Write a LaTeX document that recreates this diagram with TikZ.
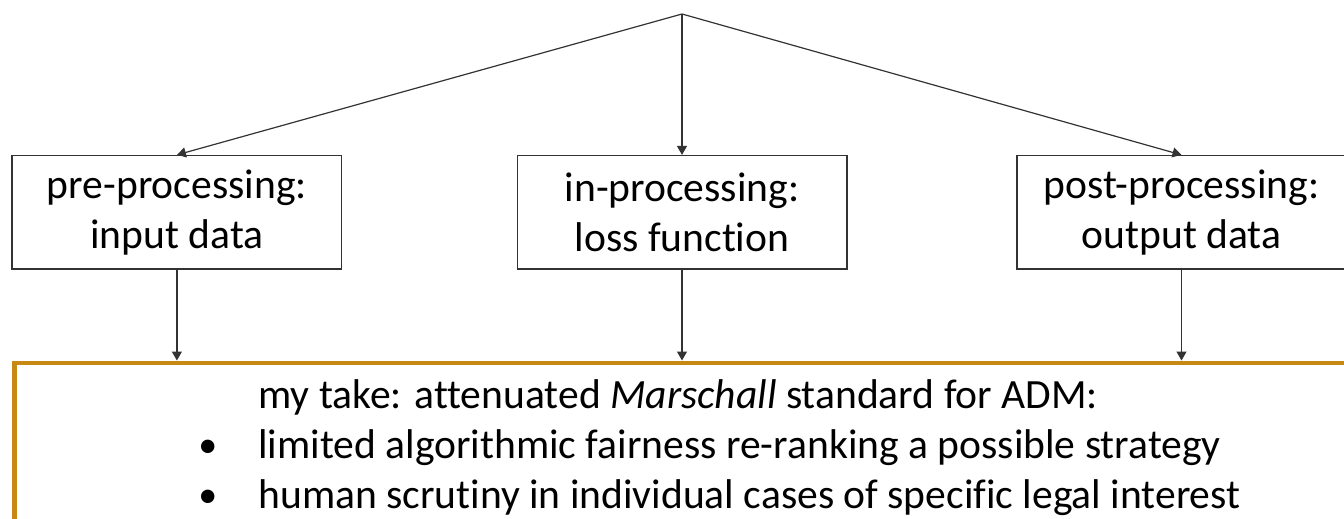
\documentclass[tikz,border=0pt]{standalone}
\usepackage{fontspec}
\setmainfont[Ligatures=NoCommon]{Carlito}
\usetikzlibrary{arrows.meta,positioning}
\definecolor{takegold}{RGB}{200,137,20}

\begin{document}
\begin{tikzpicture}[x=1pt, y=-1pt, thick]
    % Styles
    \tikzstyle{stage} = [rectangle, draw=black!80, line width=1.5pt, minimum width=329.5pt, minimum height=113.3pt, align=center, inner sep=0pt, font=\fontsize{41.6}{50}\selectfont]
    \tikzstyle{takebox} = [rectangle, draw=takegold, line width=4.5pt, anchor=north west, minimum width=1360pt, minimum height=200pt]
    \tikzstyle{arrow} = [-{Triangle[length=9pt, width=10pt]}, draw=black!80, line width=1.2pt]
    \tikzstyle{line_text} = [anchor=base west, inner sep=0pt, font=\fontsize{41.6}{50}\selectfont]

    \useasboundingbox (0,0) rectangle (1344,519);

    % Top split point
    \coordinate (top) at (682,14);

    % Processing stages
    \node [stage] (pre) at (176.9,212.3) {pre-processing:\\input data};
    \node [stage] (in) at (682,212.3) {in-processing:\\loss function};
    \node [stage] (post) at (1181.5,212.3) {post-processing:\\output data};

    % Bottom box
    \node [takebox] (take) at (12.3,360.5) {};

    % Connections
    \draw [arrow] (top) -- (pre.north);
    \draw [arrow] (top) -- (in.north);
    \draw [arrow] (top) -- (post.north);

    \draw [arrow] (pre.south) -- (pre.south |- take.north);
    \draw [arrow] (in.south) -- (in.south |- take.north);
    \draw [arrow] (post.south) -- (post.south |- take.north);

    % Text of the bottom box
    \node [line_text] (title) at (258,408) {my take: attenuated \textit{Marschall} standard for ADM:};
    \node [line_text] (item1) at (198,458) {\makebox[60pt][l]{\raisebox{1pt}{\fontsize{38}{38}\selectfont\textbullet}}limited algorithmic fairness re-ranking a possible strategy};
    \node [line_text] (item2) at (198,508) {\makebox[60pt][l]{\raisebox{1pt}{\fontsize{38}{38}\selectfont\textbullet}}human scrutiny in individual cases of specific legal interest};

\end{tikzpicture}
\end{document}
